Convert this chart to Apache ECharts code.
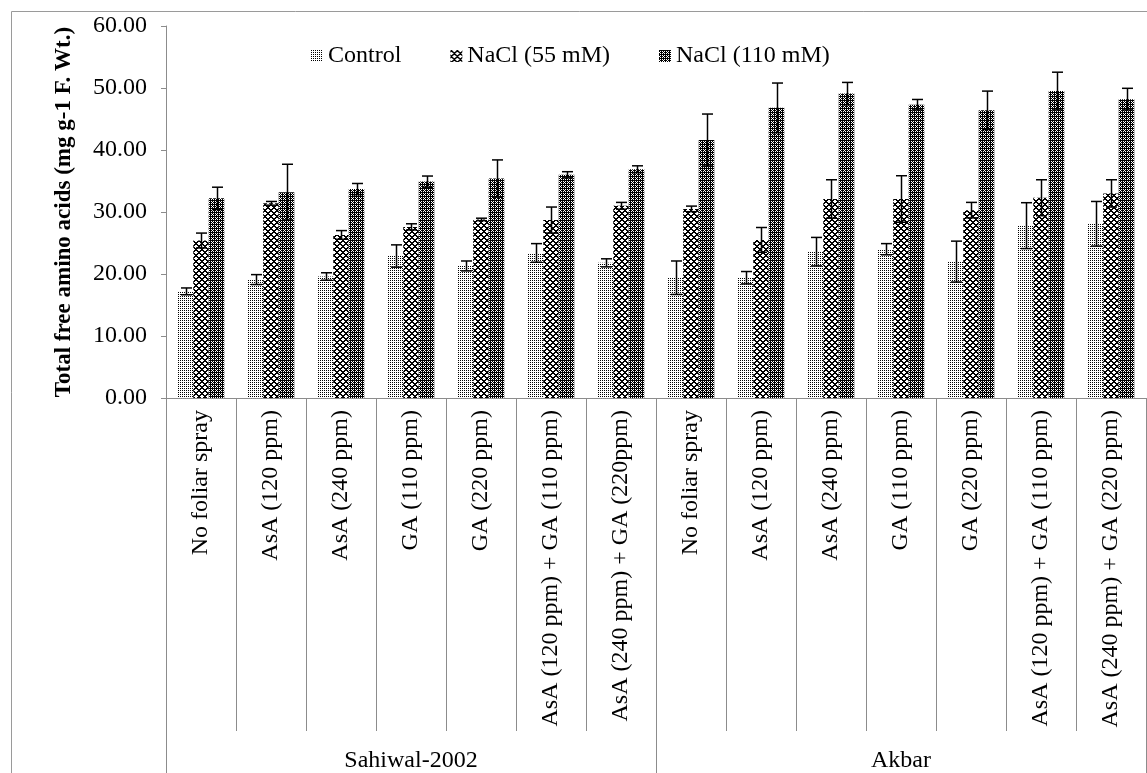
<!DOCTYPE html>
<html>
<head>
<meta charset="utf-8">
<script src="https://cdn.jsdelivr.net/npm/echarts@6/dist/echarts.min.js"></script>
<style>
html,body{margin:0;padding:0;background:#fff;}
#chart{width:1147px;height:773px;}
</style>
</head>
<body>
<div id="chart"></div>
<script>
// ---- data ----
const categories = [
  'No foliar spray','AsA (120 ppm)','AsA (240 ppm)','GA (110 ppm)','GA (220 ppm)',
  'AsA (120 ppm) + GA (110 ppm)','AsA (240 ppm) + GA (220ppm)',
  'No foliar spray','AsA (120 ppm)','AsA (240 ppm)','GA (110 ppm)','GA (220 ppm)',
  'AsA (120 ppm) + GA (110 ppm)','AsA (240 ppm) + GA (220 ppm)'
];
const cultivars = ['Sahiwal-2002','Akbar'];
const seriesNames = ['Control','NaCl (55 mM)','NaCl (110 mM)'];
const control    = [17.2,19.1,19.6,22.9,21.3,23.4,21.8, 19.4,19.4,23.6,24.0,22.0,27.8,28.1];
const nacl55     = [25.4,31.4,26.3,27.6,28.8,28.7,31.0, 30.5,25.5,32.1,32.1,30.3,32.3,33.0];
const nacl110    = [32.2,33.2,33.7,34.9,35.4,36.0,36.9, 41.6,46.8,49.1,47.3,46.4,49.5,48.2];
const controlErr = [0.55,0.8,0.6,1.8,0.8,1.5,0.65, 2.7,1.0,2.3,0.9,3.3,3.7,3.6];
const nacl55Err  = [1.2,0.3,0.7,0.5,0.2,2.1,0.55, 0.45,2.0,3.1,3.75,1.25,2.9,2.2];
const nacl110Err = [1.8,4.5,0.9,0.9,3.0,0.5,0.55, 4.2,4.0,1.8,0.85,3.1,3.05,1.75];
const yTicks = {min:0, max:60, interval:10};

// ---- styles ----
const FONT = "'Liberation Serif','Times New Roman',serif";
const AXIS_GRAY = '#8c8c8c';
const BAR_W = 15.5;

function makePattern(w, h, fn){
  const c = document.createElement('canvas');
  c.width = w; c.height = h;
  const ctx = c.getContext('2d');
  ctx.fillStyle = '#fff'; ctx.fillRect(0,0,w,h);
  ctx.fillStyle = '#000';
  for(let y=0;y<h;y++) for(let x=0;x<w;x++) if(fn(x,y)) ctx.fillRect(x,y,1,1);
  return {image:c, repeat:'repeat'};
}
const patControl = makePattern(2,2,(x,y)=> x===0 && y===0);
const pat55 = makePattern(6,6,(x,y)=> ((x+y)%6)<2 || ((x-y+6)%6)<2);
const pat110 = makePattern(4,4,(x,y)=> !((x%2===1 && y%2===1) || (x%4===0 && y%4===2)));
const patterns = [patControl, pat55, pat110];
const values = [control, nacl55, nacl110];
const errors = [controlErr, nacl55Err, nacl110Err];

const series = [];
values.forEach((vals, s) => {
  series.push({
    name: seriesNames[s], type:'bar', xAxisIndex:0, yAxisIndex:0,
    data: vals, barWidth: BAR_W, barGap:'0%',
    itemStyle:{color: patterns[s]},
    emphasis:{disabled:true}
  });
});
errors.forEach((errs, s) => {
  const offset = (s-1)*BAR_W;
  series.push({
    type:'custom', xAxisIndex:0, yAxisIndex:0, z:10, silent:true,
    encode:{x:0, y:1},
    data: values[s].map((v,i)=>[i, v, errs[i]]),
    renderItem(params, api){
      const i = api.value(0), v = api.value(1), e = api.value(2);
      const top = api.coord([i, v+e]);
      const bot = api.coord([i, v-e]);
      const x = Math.round(top[0] + offset) + 0.5;
      const cap = 5.5;
      const st = {stroke:'#000', lineWidth:1.5};
      return {type:'group', children:[
        {type:'line', shape:{x1:x, y1:top[1], x2:x, y2:bot[1]}, style:st},
        {type:'line', shape:{x1:x-cap, y1:top[1], x2:x+cap, y2:top[1]}, style:st},
        {type:'line', shape:{x1:x-cap, y1:bot[1], x2:x+cap, y2:bot[1]}, style:st}
      ]};
    }
  });
});

const chart = echarts.init(document.getElementById('chart'), null, {renderer:'canvas'});
chart.setOption({
  animation:false,
  backgroundColor:'#fff',
  textStyle:{fontFamily:FONT},
  graphic:[{
    type:'rect', silent:true,
    shape:{x:11.5, y:11.5, width:1200, height:800},
    style:{fill:'none', stroke:'#9a9a9a', lineWidth:1}
  }],
  legend:{
    data: seriesNames,
    left:306, top:39,
    itemWidth:12, itemHeight:12, itemGap:49,
    icon:'rect',
    textStyle:{fontFamily:FONT, fontSize:24, color:'#000'}
  },
  grid:{left:166, top:26, width:980, height:374, containLabel:false},
  xAxis:[{
    type:'category', data:categories, position:'bottom',
    axisLine:{show:true, lineStyle:{color:AXIS_GRAY, width:1}},
    axisTick:{show:true, interval:0, length:333, lineStyle:{color:AXIS_GRAY, width:1}},
    axisLabel:{interval:0, rotate:90, margin:12, fontFamily:FONT, fontSize:24, color:'#000'},
    splitLine:{show:false}
  },{
    type:'category', data:cultivars, position:'bottom', gridIndex:0,
    axisLine:{show:false},
    axisTick:{show:true, interval:0, length:390, lineStyle:{color:AXIS_GRAY, width:1}},
    axisLabel:{interval:0, margin:351, fontFamily:FONT, fontSize:24, color:'#000'},
    splitLine:{show:false}
  }],
  yAxis:{
    type:'value', min:yTicks.min, max:yTicks.max, interval:yTicks.interval,
    name:'Total free amino acids (mg g-1 F. Wt.)',
    nameLocation:'middle', nameGap:90,
    nameTextStyle:{fontFamily:FONT, fontSize:23, fontWeight:'bold', color:'#000'},
    axisLine:{show:true, lineStyle:{color:AXIS_GRAY, width:1}},
    axisTick:{show:true, length:5, lineStyle:{color:AXIS_GRAY}},
    axisLabel:{margin:19, fontFamily:FONT, fontSize:24, color:'#000', formatter:v=>v.toFixed(2)},
    splitLine:{show:false}
  },
  series: series
});
</script>
</body>
</html>
